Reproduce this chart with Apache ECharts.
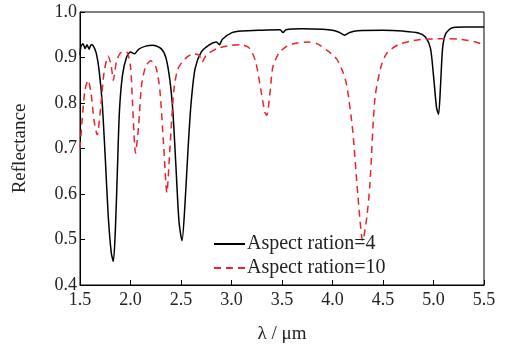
<!DOCTYPE html>
<html>
<head>
<meta charset="utf-8">
<script src="https://cdn.jsdelivr.net/npm/echarts@6/dist/echarts.min.js"></script>
<style>
  html, body { margin: 0; padding: 0; background: #fff; }
  #chart { width: 506px; height: 349px; }
</style>
</head>
<body>
<div id="chart"></div>
<script>
// 波长 (um) 与反射率
var lambda4 = [1.5, 1.51, 1.53, 1.55, 1.57, 1.59, 1.61, 1.63, 1.66, 1.69, 1.72, 1.75, 1.78, 1.81, 1.83, 1.85, 1.87, 1.89, 1.92, 1.96,
  2.0, 2.04, 2.08, 2.15, 2.22, 2.3, 2.35, 2.39, 2.42, 2.45, 2.48, 2.51, 2.54, 2.57, 2.6, 2.64, 2.7, 2.78, 2.85, 2.88, 2.91,
  3.0, 3.1, 3.3, 3.48, 3.51, 3.54, 3.7, 3.9, 4.0, 4.07, 4.12, 4.17, 4.25, 4.5, 4.7, 4.85, 4.92, 4.97, 5.0, 5.03, 5.05, 5.07,
  5.09, 5.12, 5.18, 5.3, 5.5];
var refl4 = [0.905, 0.925, 0.93, 0.92, 0.928, 0.918, 0.928, 0.926, 0.91, 0.87, 0.8, 0.68, 0.55, 0.47, 0.452, 0.52, 0.65, 0.78, 0.86, 0.9,
  0.912, 0.908, 0.918, 0.925, 0.927, 0.92, 0.9, 0.85, 0.78, 0.66, 0.54, 0.497, 0.58, 0.7, 0.8, 0.876, 0.912, 0.928, 0.934, 0.928, 0.94,
  0.954, 0.958, 0.96, 0.961, 0.955, 0.961, 0.963, 0.962, 0.96, 0.955, 0.949, 0.955, 0.959, 0.96, 0.958, 0.954, 0.945, 0.92, 0.86, 0.79, 0.775, 0.84,
  0.92, 0.952, 0.965, 0.967, 0.967];

var lambda10 = [1.5, 1.52, 1.55, 1.58, 1.61, 1.64, 1.67, 1.7, 1.74, 1.78, 1.81, 1.83, 1.86, 1.9, 1.96, 2.0, 2.02, 2.05, 2.08, 2.11,
  2.15, 2.2, 2.25, 2.29, 2.33, 2.36, 2.39, 2.43, 2.47, 2.54, 2.62, 2.68, 2.71, 2.75, 2.86, 3.0, 3.1, 3.18, 3.24, 3.29, 3.33,
  3.35, 3.38, 3.41, 3.47, 3.55, 3.65, 3.76, 3.85, 3.95, 4.04, 4.1, 4.14, 4.2, 4.25, 4.3, 4.34, 4.37, 4.42, 4.48, 4.54, 4.65,
  4.77, 4.9, 5.03, 5.15, 5.26, 5.4, 5.5];
var refl10 = [0.70, 0.76, 0.83, 0.85, 0.82, 0.76, 0.73, 0.78, 0.87, 0.903, 0.88, 0.85, 0.89, 0.91, 0.912, 0.88, 0.8, 0.69, 0.75, 0.84,
  0.88, 0.893, 0.88, 0.83, 0.7, 0.603, 0.7, 0.83, 0.875, 0.897, 0.908, 0.905, 0.89, 0.905, 0.92, 0.927, 0.928, 0.92, 0.89, 0.83, 0.78,
  0.773, 0.82, 0.88, 0.91, 0.925, 0.932, 0.934, 0.93, 0.915, 0.897, 0.87, 0.84, 0.74, 0.6, 0.497, 0.55, 0.62, 0.81, 0.88, 0.91, 0.928,
  0.936, 0.94, 0.941, 0.941, 0.94, 0.935, 0.928];

var seriesNames = ['Aspect ration=4', 'Aspect ration=10'];

function pairs(xs, ys) {
  var out = [];
  for (var i = 0; i < xs.length; i++) out.push([xs[i], ys[i]]);
  return out;
}

var myChart = echarts.init(document.getElementById('chart'));
var fontFam = '"Liberation Serif", "DejaVu Serif", serif';

var option = {
  animation: false,
  backgroundColor: '#fff',
  grid: {
    left: 80, right: 22, top: 12, bottom: 57,
    show: true, borderColor: '#000', borderWidth: 1
  },
  legend: {
    orient: 'vertical',
    left: 208, top: 229,
    itemWidth: 31, itemHeight: 10, itemGap: 4,
    data: seriesNames,
    itemStyle: { opacity: 0 },
    textStyle: { fontFamily: fontFam, fontSize: 20, color: '#222', padding: [0, 0, 0, -3] }
  },
  xAxis: {
    type: 'value',
    min: 1.5, max: 5.5, interval: 0.5,
    name: 'λ / μm',
    nameLocation: 'middle',
    nameGap: 40,
    nameTextStyle: { fontFamily: fontFam, fontSize: 19, color: '#222' },
    axisLine: { lineStyle: { color: '#000', width: 1 } },
    axisTick: { inside: true, length: 5, lineStyle: { color: '#000' } },
    axisLabel: { fontFamily: fontFam, fontSize: 18, color: '#222', margin: 6,
      formatter: function (v) { return v.toFixed(1); } },
    splitLine: { show: false }
  },
  yAxis: {
    type: 'value',
    min: 0.4, max: 1.0, interval: 0.1,
    name: 'Reflectance',
    nameLocation: 'middle',
    nameGap: 50,
    nameTextStyle: { fontFamily: fontFam, fontSize: 19, color: '#222' },
    axisLine: { lineStyle: { color: '#000', width: 1 } },
    axisTick: { inside: true, length: 5, lineStyle: { color: '#000' } },
    axisLabel: { fontFamily: fontFam, fontSize: 18, color: '#222', margin: 3,
      formatter: function (v) { return v.toFixed(1); } },
    splitLine: { show: false }
  },
  series: [
    {
      name: seriesNames[0],
      type: 'line',
      symbol: 'none',
      smooth: 0.25,
      data: pairs(lambda4, refl4),
      itemStyle: { color: '#000' },
      lineStyle: { color: '#000', width: 1.5, type: 'solid' }
    },
    {
      name: seriesNames[1],
      type: 'line',
      symbol: 'none',
      smooth: 0.25,
      data: pairs(lambda10, refl10),
      itemStyle: { color: '#e8252a' },
      lineStyle: { color: '#e8252a', width: 1.5, type: [7, 5] }
    }
  ]
};
myChart.setOption(option);
</script>
</body>
</html>
